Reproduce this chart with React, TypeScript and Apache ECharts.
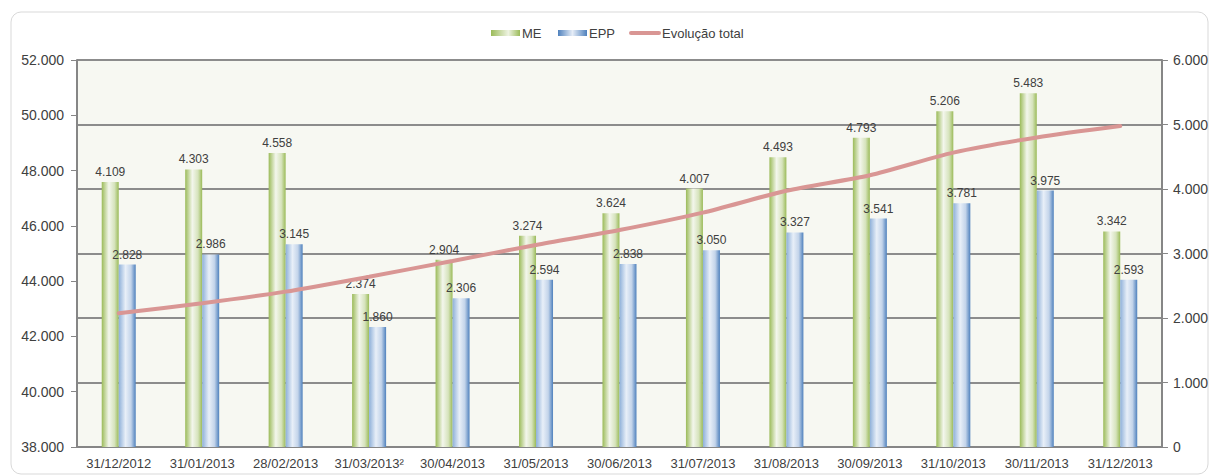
import React, { useEffect, useRef } from "react";
import * as echarts from "echarts";

const categories = [
  "31/12/2012", "31/01/2013", "28/02/2013", "31/03/2013²", "30/04/2013", "31/05/2013",
  "30/06/2013", "31/07/2013", "31/08/2013", "30/09/2013", "31/10/2013", "30/11/2013", "31/12/2013",
];
const meValues = [4109, 4303, 4558, 2374, 2904, 3274, 3624, 4007, 4493, 4793, 5206, 5483, 3342];
const eppValues = [2828, 2986, 3145, 1860, 2306, 2594, 2838, 3050, 3327, 3541, 3781, 3975, 2593];
const totalValues = [42840, 43200, 43620, 44160, 44730, 45310, 45850, 46480, 47270, 47830, 48650, 49200, 49610];
const seriesNames = ["ME", "EPP", "Evolução total"];

const fmt = (v: number) => String(Math.round(v)).replace(/\B(?=(\d{3})+(?!\d))/g, ".");
const FONT = "Liberation Sans, Arial, sans-serif";

export default function App() {
  const ref = useRef<HTMLDivElement>(null);
  useEffect(() => {
    if (!ref.current) return;
    const chart = echarts.init(ref.current, undefined, { renderer: "svg" });
    const greenGrad = new echarts.graphic.LinearGradient(0, 0, 1, 0, [
      { offset: 0, color: "#9bbb59" },
      { offset: 0.42, color: "#f3f6ec" },
      { offset: 0.75, color: "#d6e3bc" },
      { offset: 1, color: "#9bbb59" },
    ]);
    const blueGrad = new echarts.graphic.LinearGradient(0, 0, 1, 0, [
      { offset: 0, color: "#8eb0d9" },
      { offset: 0.4, color: "#e8eff8" },
      { offset: 0.72, color: "#c3d4ea" },
      { offset: 1, color: "#4f81bd" },
    ]);
    const greenLegend = new echarts.graphic.LinearGradient(0, 0, 1, 0, [
      { offset: 0, color: "#9bbb59" },
      { offset: 0.6, color: "#eef3e2" },
      { offset: 1, color: "#9bbb59" },
    ]);
    const blueLegend = new echarts.graphic.LinearGradient(0, 0, 1, 0, [
      { offset: 0, color: "#4f81bd" },
      { offset: 0.5, color: "#e6edf7" },
      { offset: 1, color: "#4f81bd" },
    ]);
    const axisText = { color: "#404040", fontFamily: FONT };
    const legendText = (x: number, text: string) => ({
      type: "text",
      x,
      y: 33,
      style: { text, fill: "#404040", font: `13px ${FONT}`, textVerticalAlign: "middle", verticalAlign: "middle" },
      silent: true,
    });
    chart.setOption({
      animation: false,
      textStyle: { fontFamily: FONT },
      graphic: [
        {
          type: "rect",
          shape: { x: 11, y: 12, width: 1197, height: 462, r: 10 },
          style: { fill: "none", stroke: "#d9d9d9", lineWidth: 1 },
          silent: true,
        },
        { type: "rect", shape: { x: 491, y: 30, width: 29, height: 6 }, style: { fill: greenLegend }, silent: true },
        legendText(522, seriesNames[0]),
        { type: "rect", shape: { x: 558, y: 30, width: 29, height: 6 }, style: { fill: blueLegend }, silent: true },
        legendText(589, seriesNames[1]),
        {
          type: "line",
          shape: { x1: 631, y1: 33, x2: 659, y2: 33 },
          style: { stroke: "#d99694", lineWidth: 4, lineCap: "round" },
          silent: true,
        },
        legendText(662, seriesNames[2]),
      ],
      legend: { show: false },
      grid: {
        left: 77,
        right: 49,
        top: 60,
        bottom: 29,
        show: true,
        backgroundColor: "#f7f8f2",
        borderWidth: 0,
      },
      xAxis: {
        type: "category",
        data: categories,
        axisLine: { lineStyle: { color: "#868686", width: 2 } },
        axisTick: { show: false },
        axisLabel: { ...axisText, fontSize: 13, margin: 10, interval: 0 },
      },
      yAxis: [
        {
          type: "value",
          min: 38000,
          max: 52000,
          interval: 2000,
          position: "left",
          axisLine: { show: true, lineStyle: { color: "#868686", width: 2 } },
          axisTick: { show: true, length: 6, lineStyle: { color: "#868686", width: 1 } },
          splitLine: { show: false },
          axisLabel: { ...axisText, fontSize: 14, margin: 13, formatter: fmt },
        },
        {
          type: "value",
          min: 0,
          max: 6000,
          interval: 1000,
          position: "right",
          axisLine: { show: true, lineStyle: { color: "#868686", width: 2 } },
          axisTick: { show: true, length: 6, lineStyle: { color: "#868686", width: 1 } },
          splitLine: { show: true, lineStyle: { color: "#8c8c8c", width: 2 } },
          axisLabel: { ...axisText, fontSize: 14, margin: 11, formatter: fmt },
        },
      ],
      series: [
        {
          name: seriesNames[0],
          type: "bar",
          yAxisIndex: 1,
          data: meValues,
          barWidth: 17,
          barGap: "0%",
          itemStyle: { color: greenGrad },
          label: {
            show: true,
            position: "top",
            distance: 4,
            fontSize: 12,
            color: "#404040",
            fontFamily: FONT,
            formatter: (p: any) => fmt(p.value),
          },
          z: 2,
        },
        {
          name: seriesNames[1],
          type: "bar",
          yAxisIndex: 1,
          data: eppValues,
          barWidth: 17,
          barGap: "0%",
          itemStyle: { color: blueGrad },
          label: {
            show: true,
            position: "top",
            distance: 4,
            fontSize: 12,
            color: "#404040",
            fontFamily: FONT,
            formatter: (p: any) => fmt(p.value),
          },
          z: 2,
        },
        {
          name: seriesNames[2],
          type: "line",
          yAxisIndex: 0,
          data: totalValues,
          symbol: "none",
          smooth: 0.25,
          lineStyle: { color: "#d99694", width: 4, cap: "round" },
          itemStyle: { color: "#d99694" },
          z: 3,
        },
      ],
    });
    return () => chart.dispose();
  }, []);
  return (
    <div
      ref={ref}
      style={{ position: "absolute", left: 0, top: 0, width: 1211, height: 476, background: "#fff" }}
    />
  );
}
